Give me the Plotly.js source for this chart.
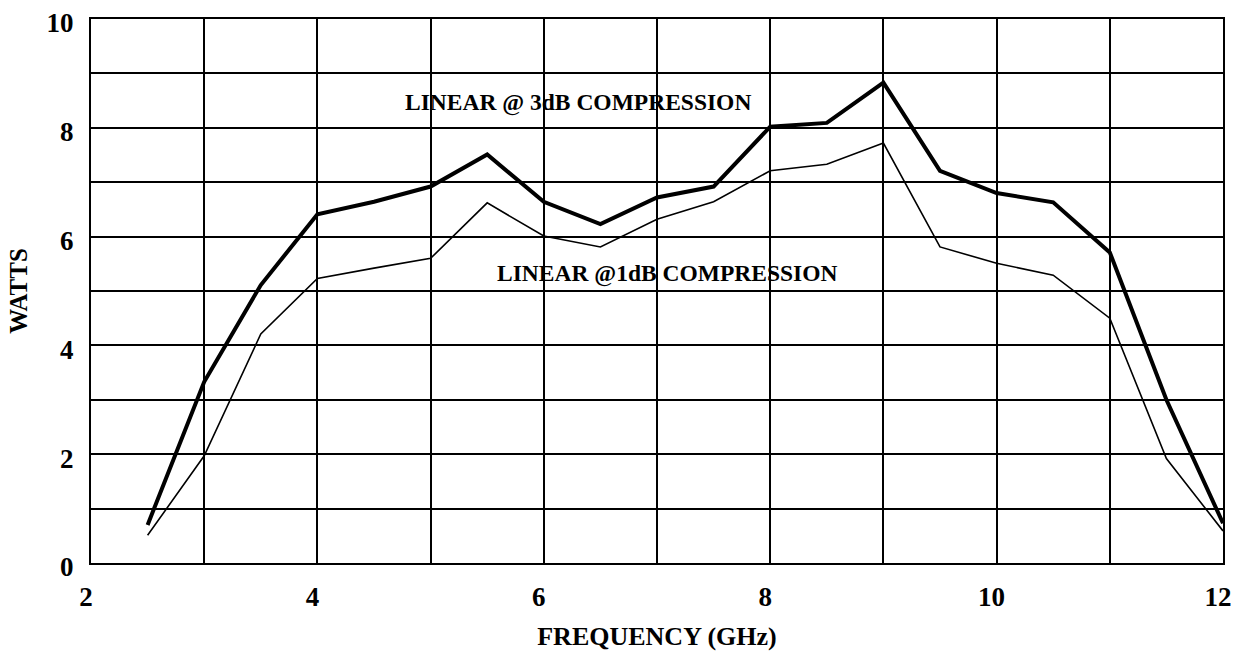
<!DOCTYPE html>
<html>
<head>
<meta charset="utf-8">
<script src="https://cdn.plot.ly/plotly-3.0.1.min.js"></script>
<style>html,body{margin:0;padding:0;background:#fff}#chart{width:1235px;height:651px}</style>
</head>
<body>
<div id="chart"></div>
<script>
const freqGHz = [2.5,3.0,3.5,4.0,4.5,5.0,5.5,6.0,6.5,7.0,7.5,8.0,8.5,9.0,9.5,10.0,10.5,11.0,11.5,12.0];
const watts3dB = [0.70,3.33,5.11,6.41,6.64,6.92,7.51,6.64,6.23,6.72,6.92,8.02,8.09,8.83,7.21,6.80,6.63,5.71,3.00,0.73];
const watts1dB = [0.51,1.97,4.21,5.23,5.42,5.60,6.62,6.01,5.81,6.32,6.64,7.21,7.33,7.72,5.81,5.51,5.29,4.50,1.92,0.59];
const xTicks = [2,4,6,8,10,12];
const yTicks = [0,2,4,6,8,10];
const label3dB = "LINEAR @ 3dB COMPRESSION";
const label1dB = "LINEAR @1dB COMPRESSION";

const FONT = "'Liberation Serif', 'Times New Roman', serif";

const traces = [
  {x: freqGHz, y: watts3dB, type: 'scatter', mode: 'lines', name: label3dB,
   line: {color: '#000', width: 4}, hoverinfo: 'x+y'},
  {x: freqGHz, y: watts1dB, type: 'scatter', mode: 'lines', name: label1dB,
   line: {color: '#000', width: 1.6}, hoverinfo: 'x+y'}
];

const layout = {
  width: 1235, height: 651,
  margin: {l: 91, r: 12, t: 19, b: 88},
  paper_bgcolor: '#fff', plot_bgcolor: '#fff',
  showlegend: false,
  font: {family: FONT, color: '#000'},
  xaxis: {
    range: [2, 12], tickvals: xTicks, ticktext: xTicks.map(String),
    showgrid: true, gridcolor: '#000', gridwidth: 2,
    minor: {dtick: 1, showgrid: true, gridcolor: '#000', gridwidth: 2, ticks: ''},
    showline: true, linecolor: '#000', linewidth: 2, mirror: true,
    zeroline: false, ticks: '', ticklabelstandoff: 9, ticklabelshift: -5,
    tickfont: {family: FONT, size: 27, color: '#000', weight: 'bold'},
    title: {text: '<b>FREQUENCY (GHz)</b>', font: {family: FONT, size: 26, color: '#000'}, standoff: 23},
    automargin: false
  },
  yaxis: {
    range: [0, 10], tickvals: yTicks, ticktext: yTicks.map(String),
    showgrid: true, gridcolor: '#000', gridwidth: 2,
    minor: {dtick: 1, showgrid: true, gridcolor: '#000', gridwidth: 2, ticks: ''},
    showline: true, linecolor: '#000', linewidth: 2, mirror: true,
    zeroline: false, ticks: '', ticklabelstandoff: 10, ticklabelshift: 4,
    tickfont: {family: FONT, size: 27, color: '#000', weight: 'bold'},
    title: {text: '<b>WATTS</b>', font: {family: FONT, size: 25, color: '#000'}, standoff: 12},
    automargin: false
  },
  annotations: [
    {x: 6.30, y: 8.46, xref: 'x', yref: 'y', text: '<b>' + label3dB + '</b>', showarrow: false,
     font: {family: FONT, size: 23.5, color: '#000'}},
    {x: 7.09, y: 5.33, xref: 'x', yref: 'y', text: '<b>' + label1dB + '</b>', showarrow: false,
     font: {family: FONT, size: 23.5, color: '#000'}}
  ]
};

Plotly.newPlot('chart', traces, layout, {displayModeBar: false, staticPlot: true});
</script>
</body>
</html>
